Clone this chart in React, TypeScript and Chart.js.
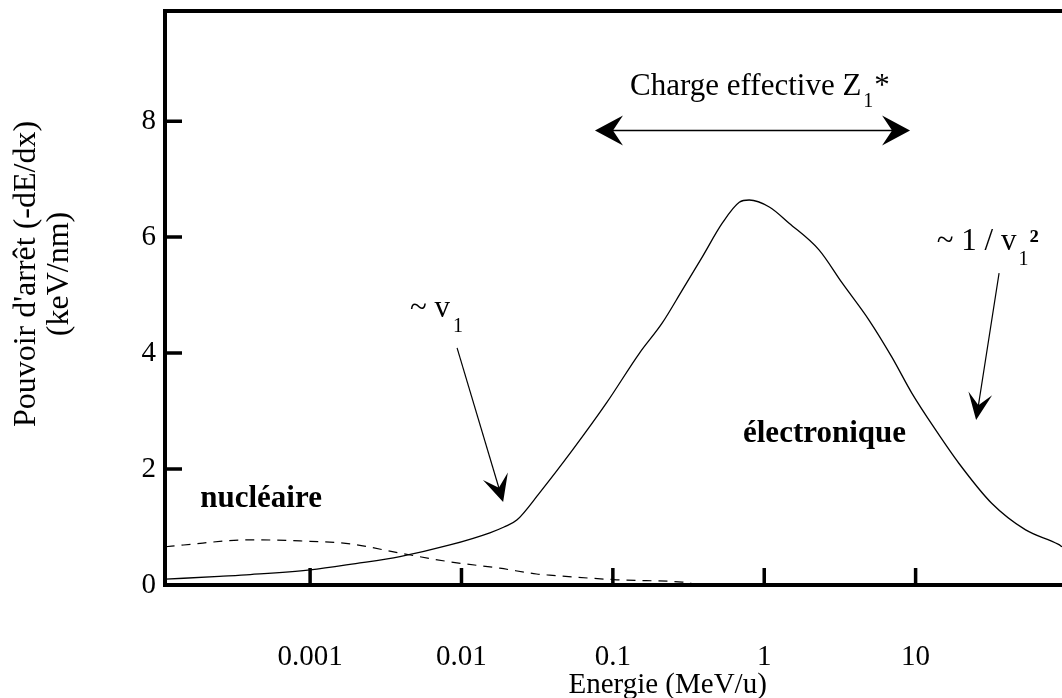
import React, { useEffect, useRef } from "react";
import { Chart, registerables } from "chart.js";
Chart.register(...registerables);

// Energy (MeV/u) and stopping power (keV/nm)
const electronicEnergy = [0.000111, 0.000251, 0.000402, 0.001, 0.002, 0.00392, 0.00838, 0.0154, 0.0191, 0.0232, 0.0328, 0.0542, 0.0908, 0.150, 0.212, 0.288, 0.390, 0.528, 0.684, 0.796, 1.08, 1.46, 2.30, 3.27, 4.92, 6.97, 9.44, 13.6, 19.3, 31.8, 53.3, 87.9, 92.7];
const electronicValue = [0.10, 0.15, 0.18, 0.26, 0.37, 0.49, 0.69, 0.90, 1.0, 1.12, 1.59, 2.33, 3.14, 4.0, 4.52, 5.09, 5.66, 6.24, 6.60, 6.64, 6.52, 6.24, 5.78, 5.21, 4.57, 3.93, 3.31, 2.67, 2.10, 1.41, 0.95, 0.70, 0.66];

const nuclearEnergy = [0.000111, 0.000146, 0.000402, 0.000859, 0.00184, 0.00392, 0.00838, 0.0179, 0.0313, 0.0382, 0.106, 0.288, 0.33];
const nuclearValue = [0.66, 0.69, 0.78, 0.76, 0.71, 0.55, 0.40, 0.29, 0.19, 0.17, 0.09, 0.05, 0.03];

const xTickValues = [0.001, 0.01, 0.1, 1, 10];
const xTickLabels = ["0.001", "0.01", "0.1", "1", "10"];
const yTickValues = [0, 2, 4, 6, 8];

const X_MIN = 0.00011;
const X_MAX = 92.7;
const Y_MIN = 0;
const Y_MAX = 9.9;

const X_TITLE = "Energie (MeV/u)";
const Y_TITLE = ["Pouvoir d'arrêt (-dE/dx)", "(keV/nm)"];

const SERIF = '"Liberation Serif", "Times New Roman", Times, serif';

// Annotation anchors in data coordinates (energy, value)
const chargeArrow = { from: 0.0762, to: 9.19, y: 7.84 };
const chargeText = { x: 0.13, y: 8.45 };
const v1Arrow = { x0: 0.00935, y0: 4.09, x1: 0.01884, y1: 1.43 };
const v1Text = { x: 0.00457, y: 4.62 };
const invArrow = { x0: 35.6, y0: 5.38, x1: 25.1, y1: 2.845 };
const invText = { x: 13.8, y: 5.78 };
const nucText = { x: 0.000188, y: 1.34 };
const elecText = { x: 0.724, y: 2.47 };
const xTitleAt = 0.23; // energy under which the x title is centred

function arrowHead(ctx: CanvasRenderingContext2D, tx: number, ty: number, fx: number, fy: number, L: number, W: number, N: number) {
  const dx = tx - fx;
  const dy = ty - fy;
  const len = Math.hypot(dx, dy);
  const ux = dx / len;
  const uy = dy / len;
  const px = -uy;
  const py = ux;
  ctx.beginPath();
  ctx.moveTo(tx, ty);
  ctx.lineTo(tx - L * ux + W * px, ty - L * uy + W * py);
  ctx.lineTo(tx - N * ux, ty - N * uy);
  ctx.lineTo(tx - L * ux - W * px, ty - L * uy - W * py);
  ctx.closePath();
  ctx.fill();
}

const decorPlugin = {
  id: "decor",
  afterDraw(chart: any) {
    const ctx: CanvasRenderingContext2D = chart.ctx;
    const { left, right, top, bottom } = chart.chartArea;
    const xs = chart.scales.x;
    const ys = chart.scales.y;
    ctx.save();
    ctx.strokeStyle = "#000";
    ctx.fillStyle = "#000";
    ctx.lineCap = "butt";

    // frame (left, top, bottom)
    ctx.lineWidth = 4;
    ctx.beginPath();
    ctx.moveTo(left, top - 2);
    ctx.lineTo(left, bottom + 2);
    ctx.moveTo(left - 2, top);
    ctx.lineTo(right, top);
    ctx.moveTo(left - 2, bottom);
    ctx.lineTo(right, bottom);
    ctx.stroke();

    // inward ticks
    ctx.lineWidth = 3.5;
    ctx.beginPath();
    yTickValues.forEach((v) => {
      if (v === 0) return;
      const py = ys.getPixelForValue(v);
      ctx.moveTo(left, py);
      ctx.lineTo(left + 17, py);
    });
    xTickValues.forEach((v) => {
      const px = xs.getPixelForValue(v);
      ctx.moveTo(px, bottom);
      ctx.lineTo(px, bottom - 17);
    });
    ctx.stroke();

    // y-axis title (two lines)
    ctx.save();
    const midY = (top + bottom) / 2 - 24;
    ctx.translate(27, midY);
    ctx.rotate(-Math.PI / 2);
    ctx.font = `32px ${SERIF}`;
    ctx.textAlign = "center";
    ctx.textBaseline = "middle";
    ctx.fillText(Y_TITLE[0], 0, 0);
    ctx.fillText(Y_TITLE[1], 0, 33);
    ctx.restore();

    const X = (v: number) => xs.getPixelForValue(v);
    const Y = (v: number) => ys.getPixelForValue(v);

    // x-axis title
    ctx.font = `29px ${SERIF}`;
    ctx.textAlign = "center";
    ctx.textBaseline = "middle";
    ctx.fillText(X_TITLE, X(xTitleAt), chart.height - 13);

    ctx.textAlign = "left";
    ctx.textBaseline = "alphabetic";

    // Charge effective Z1*
    ctx.font = `31px ${SERIF}`;
    let tx = X(chargeText.x);
    let ty = Y(chargeText.y);
    ctx.fillText("Charge effective Z", tx, ty);
    let w = ctx.measureText("Charge effective Z").width;
    ctx.font = `20px ${SERIF}`;
    ctx.fillText("1", tx + w + 2, ty + 12);
    ctx.font = `31px ${SERIF}`;
    ctx.fillText("*", tx + w + 13, ty);

    // double arrow
    const ax0 = X(chargeArrow.from);
    const ax1 = X(chargeArrow.to);
    const ay = Y(chargeArrow.y);
    ctx.lineWidth = 1.5;
    ctx.beginPath();
    ctx.moveTo(ax0 + 15, ay);
    ctx.lineTo(ax1 - 15, ay);
    ctx.stroke();
    arrowHead(ctx, ax0, ay, ax1, ay, 28, 15, 18);
    arrowHead(ctx, ax1, ay, ax0, ay, 28, 15, 18);

    // ~ v1
    ctx.font = `31px ${SERIF}`;
    tx = X(v1Text.x);
    ty = Y(v1Text.y);
    ctx.fillText("~ v", tx, ty);
    w = ctx.measureText("~ v").width;
    ctx.font = `20px ${SERIF}`;
    ctx.fillText("1", tx + w + 3, ty + 15);

    let sx = X(v1Arrow.x0), sy = Y(v1Arrow.y0), ex = X(v1Arrow.x1), ey = Y(v1Arrow.y1);
    ctx.lineWidth = 1.2;
    ctx.beginPath();
    ctx.moveTo(sx, sy);
    ctx.lineTo(ex - (ex - sx) * 0.08, ey - (ey - sy) * 0.08);
    ctx.stroke();
    arrowHead(ctx, ex, ey, sx, sy, 27, 13, 15);

    // ~ 1 / v1²
    ctx.font = `31px ${SERIF}`;
    tx = X(invText.x);
    ty = Y(invText.y);
    ctx.fillText("~ 1 / v", tx, ty);
    w = ctx.measureText("~ 1 / v").width;
    ctx.font = `20px ${SERIF}`;
    ctx.fillText("1", tx + w + 2, ty + 15);
    ctx.font = `bold 31px ${SERIF}`;
    ctx.fillText("²", tx + w + 13, ty);

    sx = X(invArrow.x0); sy = Y(invArrow.y0); ex = X(invArrow.x1); ey = Y(invArrow.y1);
    ctx.lineWidth = 1.2;
    ctx.beginPath();
    ctx.moveTo(sx, sy);
    ctx.lineTo(ex - (ex - sx) * 0.08, ey - (ey - sy) * 0.08);
    ctx.stroke();
    arrowHead(ctx, ex, ey, sx, sy, 27, 12, 15);

    // region labels
    ctx.font = `bold 31px ${SERIF}`;
    ctx.fillText("nucléaire", X(nucText.x), Y(nucText.y));
    ctx.fillText("électronique", X(elecText.x), Y(elecText.y));

    ctx.restore();
  },
};

export default function App() {
  const canvasRef = useRef<HTMLCanvasElement | null>(null);

  useEffect(() => {
    document.body.style.margin = "0";
    const canvas = canvasRef.current;
    if (!canvas) return;
    const electronic = electronicEnergy.map((e, i) => ({ x: e, y: electronicValue[i] }));
    const nuclear = nuclearEnergy.map((e, i) => ({ x: e, y: nuclearValue[i] }));

    const chart = new Chart(canvas, {
      type: "line",
      data: {
        datasets: [
          {
            label: "électronique",
            data: electronic,
            borderColor: "#000",
            borderWidth: 1.3,
            pointRadius: 0,
            fill: false,
            cubicInterpolationMode: "monotone",
          },
          {
            label: "nucléaire",
            data: nuclear,
            borderColor: "#000",
            borderWidth: 1.2,
            borderDash: [9, 7],
            pointRadius: 0,
            fill: false,
            cubicInterpolationMode: "monotone",
          },
        ],
      },
      options: {
        responsive: false,
        animation: false,
        devicePixelRatio: 1,
        layout: { padding: { top: 11, left: 0, right: 0, bottom: 0 } },
        plugins: { legend: { display: false }, tooltip: { enabled: false } },
        scales: {
          x: {
            type: "logarithmic",
            min: X_MIN,
            max: X_MAX,
            grid: { display: false, drawTicks: false },
            border: { display: false },
            afterBuildTicks: (scale: any) => {
              scale.ticks = xTickValues.map((v) => ({ value: v }));
            },
            afterFit: (scale: any) => {
              scale.height = 113;
              scale.paddingLeft = 0;
              scale.paddingRight = 0;
            },
            ticks: {
              autoSkip: false,
              maxRotation: 0,
              padding: 55,
              color: "#000",
              font: { family: SERIF, size: 29 },
              callback: (value: any) => {
                const i = xTickValues.findIndex((t) => Math.abs(t - Number(value)) / t < 1e-6);
                return i >= 0 ? xTickLabels[i] : "";
              },
            },
            title: { display: false, text: X_TITLE },
          },
          y: {
            type: "linear",
            min: Y_MIN,
            max: Y_MAX,
            grid: { display: false, drawTicks: false },
            border: { display: false },
            afterBuildTicks: (scale: any) => {
              scale.ticks = yTickValues.map((v) => ({ value: v }));
            },
            afterFit: (scale: any) => {
              scale.width = 165;
              scale.paddingTop = 0;
              scale.paddingBottom = 0;
            },
            ticks: {
              padding: 9,
              color: "#000",
              font: { family: SERIF, size: 29 },
              callback: (value: any) => String(value),
            },
            title: { display: false, text: Y_TITLE.join(" ") },
          },
        },
      },
      plugins: [decorPlugin],
    } as any);

    return () => chart.destroy();
  }, []);

  return (
    <div style={{ position: "absolute", left: 0, top: 0, width: 1062, height: 698, overflow: "hidden", background: "#fff" }}>
      <canvas ref={canvasRef} width={1062} height={698} style={{ display: "block" }} />
    </div>
  );
}
